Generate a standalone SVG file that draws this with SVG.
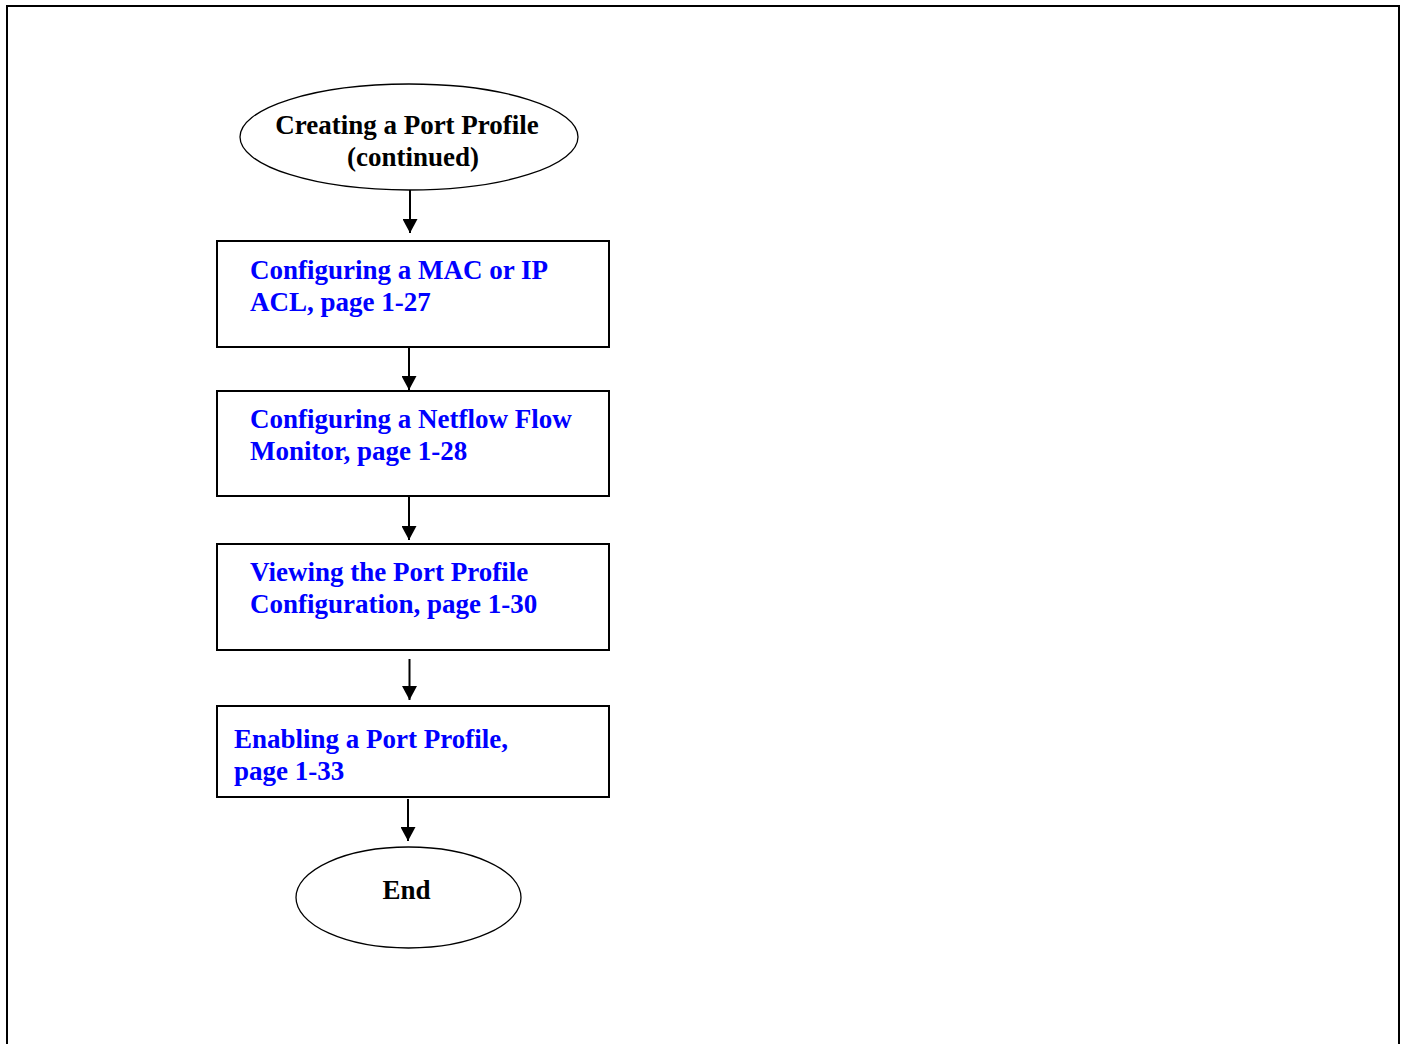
<svg xmlns="http://www.w3.org/2000/svg" width="1404" height="1044" viewBox="0 0 1404 1044">
<style>
  .frame{fill:none;stroke:#000;stroke-width:2}
  .box{fill:#fff;stroke:#000;stroke-width:2}
  .oval{fill:#fff;stroke:#000;stroke-width:1.3}
  .t{font-family:"Liberation Serif","Times New Roman",serif;font-weight:bold;font-size:27px}
  .blk{fill:#000}
  .lnk{fill:#0000ff}
  .conn{stroke:#000;stroke-width:2;fill:none;marker-end:url(#ah)}
</style>
<defs>
  <marker id="ah" viewBox="0 0 14 15" refX="14" refY="7.5" markerWidth="14" markerHeight="15" markerUnits="userSpaceOnUse" orient="auto">
    <path d="M0,0 L14,7.5 L0,15 z" fill="#000"/>
  </marker>
</defs>
<rect width="1404" height="1044" fill="#fff"/>
<rect class="frame" x="7" y="6" width="1392" height="1060"/>

<g id="connectors">
  <line class="conn" x1="410" y1="190" x2="410" y2="233"/>
  <line class="conn" x1="409" y1="348" x2="409" y2="390"/>
  <line class="conn" x1="409" y1="497" x2="409" y2="540"/>
  <line class="conn" x1="409.5" y1="659" x2="409.5" y2="700"/>
  <line class="conn" x1="408" y1="799" x2="408" y2="841"/>
</g>

<g id="start">
  <ellipse class="oval" cx="409" cy="137" rx="169" ry="53"/>
  <text class="t blk" x="407" y="134" text-anchor="middle">Creating a Port Profile</text>
  <text class="t blk" x="413" y="166" text-anchor="middle">(continued)</text>
</g>

<g id="mac-ip-acl">
  <rect class="box" x="217" y="241" width="392" height="106"/>
  <text class="t lnk" x="250" y="279">Configuring a MAC or IP</text>
  <text class="t lnk" x="250" y="311">ACL, page 1-27</text>
</g>

<g id="netflow">
  <rect class="box" x="217" y="391" width="392" height="105"/>
  <text class="t lnk" x="250" y="428">Configuring a Netflow Flow</text>
  <text class="t lnk" x="250" y="460">Monitor, page 1-28</text>
</g>

<g id="viewing">
  <rect class="box" x="217" y="544" width="392" height="106"/>
  <text class="t lnk" x="250" y="581">Viewing the Port Profile</text>
  <text class="t lnk" x="250" y="613">Configuration, page 1-30</text>
</g>

<g id="enabling">
  <rect class="box" x="217" y="706" width="392" height="91"/>
  <text class="t lnk" x="234" y="748">Enabling a Port Profile,</text>
  <text class="t lnk" x="234" y="780">page 1-33</text>
</g>

<g id="end">
  <ellipse class="oval" cx="408.5" cy="897.5" rx="112.5" ry="50.5"/>
  <text class="t blk" x="406.5" y="899" text-anchor="middle">End</text>
</g>
</svg>
